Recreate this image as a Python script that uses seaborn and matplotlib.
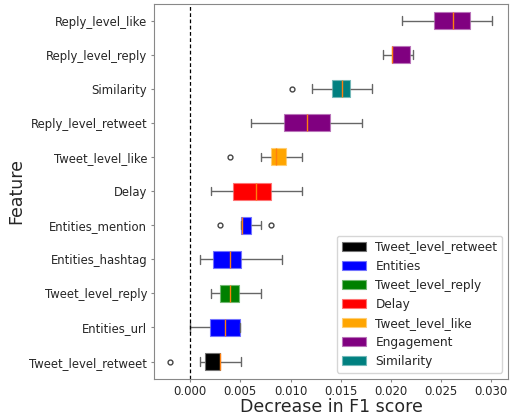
import numpy as np
import pandas as pd
import matplotlib
matplotlib.use("Agg")
import matplotlib.pyplot as plt
import matplotlib.colors as mcolors
import seaborn as sns

# ---- data ----
features = ["Reply_level_like", "Reply_level_reply", "Similarity", "Reply_level_retweet",
            "Tweet_level_like", "Delay", "Entities_mention", "Entities_hashtag",
            "Tweet_level_reply", "Entities_url", "Tweet_level_retweet"]
feature_group = ["Engagement", "Engagement", "Similarity", "Engagement",
                 "Tweet_level_like", "Delay", "Entities", "Entities",
                 "Tweet_level_reply", "Entities", "Tweet_level_retweet"]

reply_level_like = [0.0211, 0.0232, 0.0243, 0.0255, 0.0262, 0.0270, 0.0279, 0.0290, 0.0301]
reply_level_reply = [0.0192, 0.0198, 0.0201, 0.0201, 0.0201, 0.0210, 0.0219, 0.0220, 0.0222]
similarity = [0.0101, 0.0121, 0.0141, 0.0146, 0.0151, 0.0155, 0.0159, 0.0170, 0.0181]
reply_level_retweet = [0.0061, 0.0080, 0.0094, 0.0105, 0.0116, 0.0128, 0.0139, 0.0155, 0.0171]
tweet_level_like = [0.0040, 0.0071, 0.0081, 0.0083, 0.0086, 0.0090, 0.0096, 0.0101, 0.0111]
delay = [0.0021, 0.0030, 0.0043, 0.0055, 0.0066, 0.0073, 0.0081, 0.0095, 0.0111]
entities_mention = [0.0030, 0.0051, 0.0051, 0.0051, 0.0052, 0.0056, 0.0061, 0.0071, 0.0081]
entities_hashtag = [0.0010, 0.0016, 0.0023, 0.0032, 0.0040, 0.0046, 0.0051, 0.0070, 0.0092]
tweet_level_reply = [0.0021, 0.0025, 0.0030, 0.0035, 0.0040, 0.0045, 0.0049, 0.0060, 0.0071]
entities_url = [0.0000, 0.0010, 0.0020, 0.0028, 0.0035, 0.0042, 0.0050, 0.0050, 0.0050]
tweet_level_retweet = [-0.0020, 0.0010, 0.0015, 0.0020, 0.0030, 0.0030, 0.0030, 0.0040, 0.0051]

values = [reply_level_like, reply_level_reply, similarity, reply_level_retweet,
          tweet_level_like, delay, entities_mention, entities_hashtag,
          tweet_level_reply, entities_url, tweet_level_retweet]

legend_order = ["Tweet_level_retweet", "Entities", "Tweet_level_reply", "Delay",
                "Tweet_level_like", "Engagement", "Similarity"]
group_colors = ["black", "blue", "green", "red", "orange", "purple", "teal"]

rows = []
for f, g, vals in zip(features, feature_group, values):
    for v in vals:
        rows.append({"Feature": f, "Group": g, "Value": v})
df = pd.DataFrame(rows)

# ---- plot ----
sns.set_style("white")
fig, ax = plt.subplots(figsize=(5.19, 4.17), dpi=100)
fig.subplots_adjust(left=0.2967, right=0.9794, bottom=0.092, top=0.9916)

sns.boxplot(data=df, x="Value", y="Feature", hue="Group", order=features,
            hue_order=legend_order, palette=dict(zip(legend_order, group_colors)),
            dodge=False, width=0.5, saturation=1, linecolor="#666666", linewidth=1,
            fliersize=3.5, medianprops=dict(color="C1", linewidth=1),
            flierprops=dict(marker="o", markerfacecolor="none", markeredgecolor="#444444"),
            ax=ax)

for p in ax.patches:
    fc = mcolors.to_rgb(p.get_facecolor())
    light = tuple(0.55 * c + 0.45 for c in fc)
    p.set_edgecolor(light)
    p.set_linewidth(0.8)

ax.axvline(0, color="black", linestyle=(0, (3, 2)), linewidth=0.9)

ax.set_xlabel("Decrease in F1 score", fontsize=12.5, labelpad=0)
ax.set_ylabel("Feature", fontsize=12.5, labelpad=3)
ax.tick_params(axis="both", labelsize=8.4, length=2.5, color="#888888", pad=1.8)
ax.tick_params(axis="y", left=True, pad=2.5)
ax.tick_params(axis="x", bottom=True)
for s in ax.spines.values():
    s.set_color("#888888")

leg = ax.legend(loc="lower right", fontsize=8.7, frameon=True)
for h in leg.legend_handles:
    try:
        fc = mcolors.to_rgb(h.get_facecolor())
        h.set_edgecolor(tuple(0.55 * c + 0.45 for c in fc))
        h.set_linewidth(0.8)
    except Exception:
        pass

fig.savefig("out.png", dpi=100)
